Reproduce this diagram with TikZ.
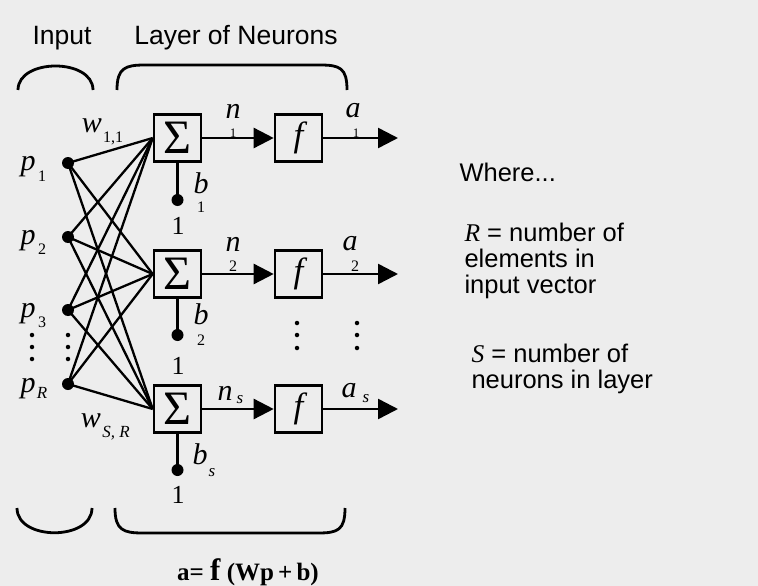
\documentclass[tikz,border=0pt]{standalone}
\usepackage{fontspec}
\setmainfont{Liberation Serif}
\setsansfont{Liberation Sans}
\usetikzlibrary{arrows.meta}
\begin{document}
\begin{tikzpicture}[x=1pt,y=-1pt,
  sumbox/.style={draw, line width=2.6pt, minimum size=47pt, inner sep=0pt, font={\fontsize{48}{48}\selectfont}},
  funbox/.style={draw, line width=2.6pt, minimum size=47pt, inner sep=0pt, font={\itshape\fontsize{35}{35}\selectfont}},
  dot/.style={circle, fill=black, inner sep=0pt, minimum size=12pt},
  vdot/.style={circle, fill=black, inner sep=0pt, minimum size=4.5pt},
  conn/.style={line width=2.3pt},
  arr/.style={line width=2.5pt, -{Triangle[length=20pt,width=20pt]}},
  brace/.style={line width=2.8pt},
  head/.style={font={\sffamily\fontsize{26.5}{26.5}\selectfont}},
  txt/.style={font={\sffamily\fontsize{25.5}{26}\selectfont}, align=left, anchor=west},
  lbl/.style={font={\itshape\fontsize{30}{30}\selectfont}, inner sep=0pt},
  sub/.style={font={\itshape\fontsize{17}{17}\selectfont}, inner sep=0pt},
  upsub/.style={font={\fontsize{16}{16}\selectfont}, inner sep=0pt},
  tick/.style={font={\fontsize{13}{13}\selectfont}, inner sep=0pt},
  one/.style={font={\fontsize{26}{26}\selectfont}, inner sep=0pt}]
\fill[black!7] (0,0) rectangle (758,586);
\useasboundingbox (0,0) rectangle (758,586);

% headings
\node[head] (tin) at (62,38) {Input};
\node[head] (tlayer) at (236,38) {Layer of Neurons};

% braces
\draw[brace] (18,90) .. controls (18,58) and (93,58) .. (93,90);
\draw[brace] (117,90) .. controls (117,68) and (125,65) .. (145,65) -- (320,65) .. controls (340,65) and (347,68) .. (347,90);
\draw[brace] (17,508) .. controls (17,541) and (92,541) .. (92,508);
\draw[brace] (115,508) .. controls (115,530) and (123,533) .. (143,533) -- (318,533) .. controls (338,533) and (345,530) .. (345,508);

% inputs
\node[dot] (p1) at (68,163) {};
\node[dot] (p2) at (68,237) {};
\node[dot] (p3) at (68,310) {};
\node[dot] (pR) at (68,384) {};

% sums and transfer functions
\node[sumbox] (s1) at (177.5,138) {Σ};
\node[sumbox] (s2) at (177.5,274) {Σ};
\node[sumbox] (s3) at (177.5,409) {Σ};
\node[funbox] (f1) at (298.5,138) {f};
\node[funbox] (f2) at (298.5,274) {f};
\node[funbox] (f3) at (298.5,409) {f};
\coordinate (o1) at (398,138);
\coordinate (o2) at (398,274);
\coordinate (o3) at (398,409);

% weights
\foreach \i in {1,2,3,R}
  \foreach \j in {1,2,3}
    \draw[conn] (p\i.center) -- (s\j.west);

% arrows
\foreach \j in {1,2,3} {
  \draw[arr] (s\j.east) -- (f\j.west);
  \draw[arr] (f\j.east) -- (o\j);
}

% biases
\node[dot] (b1) at (177.5,200) {};
\node[dot] (b2) at (177.5,335) {};
\node[dot] (b3) at (177.5,470) {};
\foreach \j in {1,2,3} \draw[conn] (s\j.south) -- (b\j.center);
\node[one] (u1) at (178,226) {1};
\node[one] (u2) at (178,366) {1};
\node[one] (u3) at (178,495) {1};

% bias labels
\node[lbl] (lb1) at (201,183) {b};
\node[upsub] (lb1s) at (201,207) {1};
\node[lbl] (lb2) at (201,314) {b};
\node[upsub] (lb2s) at (201,340) {2};
\node[lbl] (lb3) at (200,454) {b};
\node[sub] (lb3s) at (212,473) {s};

% input labels
\node[lbl] (lp1) at (28,167) {p};
\node[upsub] (lp1s) at (42,176) {1};
\node[lbl] (lp2) at (28,241) {p};
\node[upsub] (lp2s) at (42,249) {2};
\node[lbl] (lp3) at (28,314) {p};
\node[upsub] (lp3s) at (42,322) {3};
\node[lbl] (lpR) at (28,389) {p};
\node[sub] (lpRs) at (42,393) {R};

% weight labels
\node[lbl] (lw1) at (92,126) {w};
\node[upsub] (lw1s) at (113,138) {1,1};
\node[lbl] (lw2) at (91,421) {w};
\node[sub] (lw2s) at (116,433) {S, R};

% n and a labels
\node[lbl] (ln1) at (233,111) {n};
\node[tick] (ln1s) at (233,133) {1};
\node[lbl] (la1) at (353,111) {a};
\node[tick] (la1s) at (356,133) {1};
\node[lbl] (ln2) at (233,244) {n};
\node[upsub] (ln2s) at (233,266) {2};
\node[lbl] (la2) at (350,244) {a};
\node[upsub] (la2s) at (355,266) {2};
\node[lbl] (ln3) at (225,393) {n};
\node[sub] (ln3s) at (240,400) {s};
\node[lbl] (la3) at (349,391) {a};
\node[sub] (la3s) at (366,399) {s};

% vertical dots
\foreach \k/\x/\y in {a/32/335, b/32/347, c/32/359, d/68/335, e/68/347, f/68/359,
                      g/297/323, h/297/335, i/297/348, j/357/323, k/357/335, l/357/348}
  \node[vdot] (vd\k) at (\x,\y) {};

% explanation
\node[txt] (where) at (456,172) {Where...};
\node[txt] (rdef) at (461,261) {{\rmfamily\itshape R} = number of\\elements in\\input vector};
\node[txt] (sdef) at (468,369) {{\rmfamily\itshape S} = number of\\neurons in layer};

% formula
\node[font={\bfseries\fontsize{25}{25}\selectfont}] (formula) at (248,572) {a= {\fontsize{31}{31}\selectfont f} (Wp\,+\,b)};
\end{tikzpicture}
\end{document}
